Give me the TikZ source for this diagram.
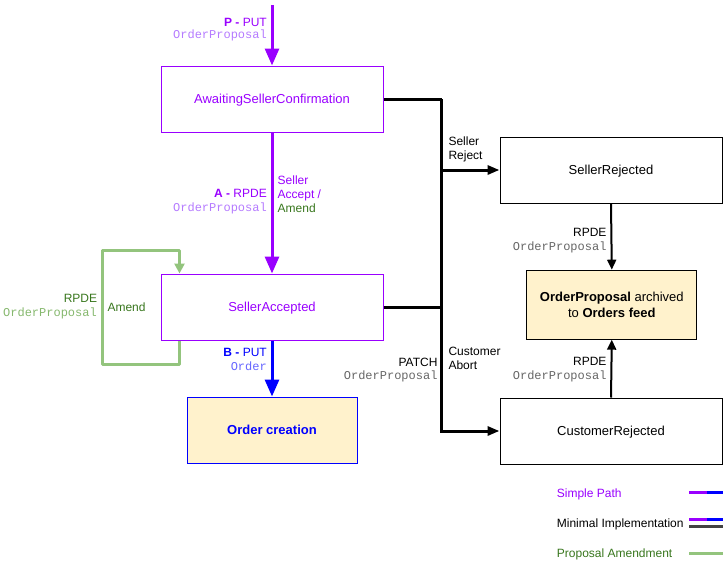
\documentclass[tikz,border=0pt]{standalone}
\usepackage{fontspec}
\setmainfont{Liberation Sans}
\setmonofont{Liberation Mono}
\usetikzlibrary{arrows.meta}
\definecolor{purp}{HTML}{9900FF}
\definecolor{lpurp}{HTML}{B57BFF}
\definecolor{blu}{HTML}{0000FF}
\definecolor{lblu}{HTML}{6666FF}
\definecolor{dgreen}{HTML}{38761D}
\definecolor{lgreen}{HTML}{93C47D}
\definecolor{mgreen}{HTML}{86B86E}
\definecolor{gmono}{HTML}{666666}
\definecolor{fillc}{HTML}{FFF2CC}
\definecolor{dgray}{HTML}{434343}
\tikzset{
  box/.style={draw, line width=1pt, minimum width=222pt, minimum height=66pt, inner sep=0pt, font=\fontsize{13}{15}\selectfont, align=center},
  onebox/.style={box, text height=9.4pt, text depth=0pt},
  lbl/.style={inner sep=0pt, font=\fontsize{12}{14}\selectfont},
  mono/.style={inner sep=0pt, font=\fontsize{12}{14}\selectfont\ttfamily},
  bigarrow/.style={line width=3pt, -{Triangle[width=14pt,length=17pt]}},
  blk/.style={line width=3pt, line join=miter},
  blkarrow/.style={line width=3pt, -{Triangle[width=9pt,length=12pt]}},
  thinarrow/.style={line width=2pt, -{Triangle[width=9pt,length=10pt]}},
  legline/.style={line width=3pt}
}
\begin{document}
\begin{tikzpicture}[x=1pt,y=-1pt]
\useasboundingbox (0,0) rectangle (728,562);
% boxes
\node[onebox, draw=purp, text=purp] (asc) at (272,99) {AwaitingSellerConfirmation};
\node[onebox, draw=purp, text=purp] (sa) at (272,307) {SellerAccepted};
\node[onebox, draw=blu, fill=fillc, minimum width=170pt, text=blu, font=\fontsize{13}{15}\selectfont\bfseries] (oc) at (272,430) {Order creation};
\node[onebox] (sr) at (611,170) {SellerRejected};
\node[box, fill=fillc, minimum width=170pt, minimum height=69pt, font=\fontsize{13}{16}\selectfont] (arc) at (611.8,304.7) {\textbf{OrderProposal} archived\\to \textbf{Orders feed}};
\node[onebox] (cr) at (611,431) {CustomerRejected};
% purple / blue main path
\coordinate (ptop) at (272,5);
\draw[purp, bigarrow] (ptop) -- (asc.north);
\draw[purp, bigarrow] (asc.south) -- (sa.north);
\draw[blu, bigarrow] (sa.south) -- (oc.north);
% black connectors
\coordinate (jt) at (441.5,99);
\draw[blk] (asc.east) -- (jt);
\draw[blkarrow] (jt) |- (sr.west);
\draw[blkarrow] (jt) |- (cr.west);
\draw[blk] (sa.east) -- (sa.east -| jt);
\draw[thinarrow] (sr.south) -- (arc.north);
\draw[thinarrow] (cr.north) -- (arc.south);
% green loop
\coordinate (gl) at (102.5,250);
\draw[lgreen, line width=3pt, line join=round, -{Triangle[width=10pt,length=10pt]}]
  ([xshift=19pt]sa.south west) -- ++(0,24) -| (gl) -| ([xshift=19pt]sa.north west);
% labels
\node[lbl, text=purp, anchor=base east] (pput) at (267,26) {\textbf{P -} PUT};
\node[mono, text=lpurp, anchor=base east] (pop) at (267,38.5) {OrderProposal};
\node[lbl, text=purp, anchor=base east] (arpde) at (267,197) {\textbf{A -} RPDE};
\node[mono, text=lpurp, anchor=base east] (aop) at (267,211) {OrderProposal};
\node[lbl, text=purp, anchor=base west] (sl1) at (277.5,184) {Seller};
\node[lbl, text=purp, anchor=base west] (sl2) at (277.5,198) {Accept /};
\node[lbl, text=dgreen, anchor=base west] (sl3) at (277.5,212) {Amend};
\node[lbl, text=dgreen, anchor=base east] (grpde) at (97.3,302.7) {RPDE};
\node[mono, text=mgreen, anchor=base east] (gop) at (97,316.5) {OrderProposal};
\node[lbl, text=dgreen, anchor=base west] (gam) at (107.3,311.7) {Amend};
\node[lbl, text=blu, anchor=base east] (bput) at (267,356.7) {\textbf{B -} PUT};
\node[mono, text=lblu, anchor=base east] (bord) at (267,370.5) {Order};
\node[lbl, anchor=base west] (srj1) at (448.3,145.7) {Seller};
\node[lbl, anchor=base west] (srj2) at (448.3,159.5) {Reject};
\node[lbl, anchor=base west] (ca1) at (448.3,355) {Customer};
\node[lbl, anchor=base west] (ca2) at (448.3,369) {Abort};
\node[lbl, anchor=base east] (patch) at (437.7,366) {PATCH};
\node[mono, text=gmono, anchor=base east] (pop2) at (437.7,379.5) {OrderProposal};
\node[lbl, anchor=base east] (r1) at (606.7,236.5) {RPDE};
\node[mono, text=gmono, anchor=base east] (r1op) at (606.7,250.5) {OrderProposal};
\node[lbl, anchor=base east] (r2) at (606.7,365) {RPDE};
\node[mono, text=gmono, anchor=base east] (r2op) at (606.7,379) {OrderProposal};
% legend
\node[lbl, text=purp, anchor=base west] (leg1) at (556.7,497) {Simple Path};
\node[lbl, anchor=base west] (leg2) at (556.7,527.5) {Minimal Implementation};
\node[lbl, text=dgreen, anchor=base west] (leg3) at (556.7,557) {Proposal Amendment};
\coordinate (l1a) at (689,492.3); \coordinate (l1m) at (706.5,492.3); \coordinate (l1b) at (722.5,492.3);
\draw[purp, legline] (l1a) -- (l1m); \draw[blu, legline] (l1m) -- (l1b);
\coordinate (l2a) at (689,519.3); \coordinate (l2m) at (706.5,519.3); \coordinate (l2b) at (722.5,519.3);
\draw[purp, legline] (l2a) -- (l2m); \draw[blu, legline] (l2m) -- (l2b);
\coordinate (l3a) at (689,526.7); \coordinate (l3b) at (722.5,526.7);
\draw[dgray, legline] (l3a) -- (l3b);
\coordinate (l4a) at (689,553.3); \coordinate (l4b) at (722.5,553.3);
\draw[lgreen, legline] (l4a) -- (l4b);
\end{tikzpicture}
\end{document}
